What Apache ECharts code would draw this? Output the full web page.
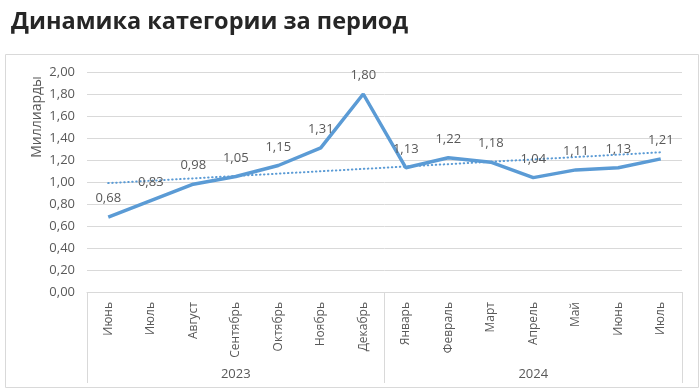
<!DOCTYPE html>
<html>
<head>
<meta charset="utf-8">
<script src="https://cdn.jsdelivr.net/npm/echarts@6/dist/echarts.min.js"></script>
<style>
html,body{margin:0;padding:0;background:#fff;}
#chart{width:700px;height:392px;}
</style>
</head>
<body>
<div id="chart"></div>
<script>
const title = 'Динамика категории за период';
const yAxisName = 'Миллиарды';
const months = ['Июнь','Июль','Август','Сентябрь','Октябрь','Ноябрь','Декабрь','Январь','Февраль','Март','Апрель','Май','Июнь','Июль'];
const years = ['2023','2024'];
const values = [0.68,0.83,0.98,1.05,1.15,1.31,1.80,1.13,1.22,1.18,1.04,1.11,1.13,1.21];
const trendStart = 0.99;
const trendEnd = 1.27;
const trend = months.map((m,i)=> i===0 ? trendStart : (i===months.length-1 ? trendEnd : null));

const FONT = '"Open Sans", "Segoe UI", sans-serif';
const GREY = '#595959';
const LINE = '#d9d9d9';
const BLUE = '#5b9bd5';
const fmt = v => Number(v).toFixed(2).replace('.', ',');

const chart = echarts.init(document.getElementById('chart'), null, {renderer:'canvas'});
chart.setOption({
  animation:false,
  textStyle:{fontFamily:FONT},
  title:{text:title,left:6,top:5,textStyle:{fontFamily:FONT,fontSize:23.5,fontWeight:'bold',color:'#262626'}},
  grid:{left:87,right:18,top:72,bottom:100},
  graphic:[
    {type:'rect',shape:{x:5.5,y:54.5,width:693,height:333},style:{fill:'none',stroke:LINE,lineWidth:1},silent:true,z:-1},
    {type:'text',x:37,y:117,rotation:Math.PI/2,style:{text:yAxisName,fontFamily:FONT,fontSize:14,fill:GREY,textAlign:'center',textVerticalAlign:'middle'}}
  ],
  xAxis:[
    {type:'category',data:months,boundaryGap:true,
     axisLine:{show:true,lineStyle:{color:LINE}},axisTick:{show:false},
     axisLabel:{rotate:90,margin:10,fontSize:12,color:GREY,fontFamily:FONT,interval:0}},
    {type:'category',data:years,position:'bottom',boundaryGap:true,
     axisLine:{show:false},
     axisTick:{show:true,length:91,lineStyle:{color:LINE}},
     axisLabel:{margin:76,fontSize:13,color:GREY,fontFamily:FONT}}
  ],
  yAxis:{type:'value',min:0,max:2,interval:0.2,
    axisLine:{show:false},axisTick:{show:false},
    splitLine:{lineStyle:{color:LINE,width:1}},
    axisLabel:{formatter:fmt,margin:12,fontSize:13,color:GREY,fontFamily:FONT}},
  series:[
    {type:'line',data:trend,connectNulls:true,symbol:'none',xAxisIndex:0,
     lineStyle:{color:BLUE,width:2,type:[0.5,3.5],cap:'round'},z:2},
    {type:'line',data:values,symbol:'circle',symbolSize:2,showSymbol:true,xAxisIndex:0,
     itemStyle:{color:'rgba(0,0,0,0)',borderWidth:0},
     lineStyle:{color:BLUE,width:3.5},z:3,
     labelLayout:{hideOverlap:false},
     label:{show:true,position:'top',distance:11,formatter:p=>fmt(p.value),fontSize:13,color:GREY,fontFamily:FONT}}
  ]
});
</script>
</body>
</html>
